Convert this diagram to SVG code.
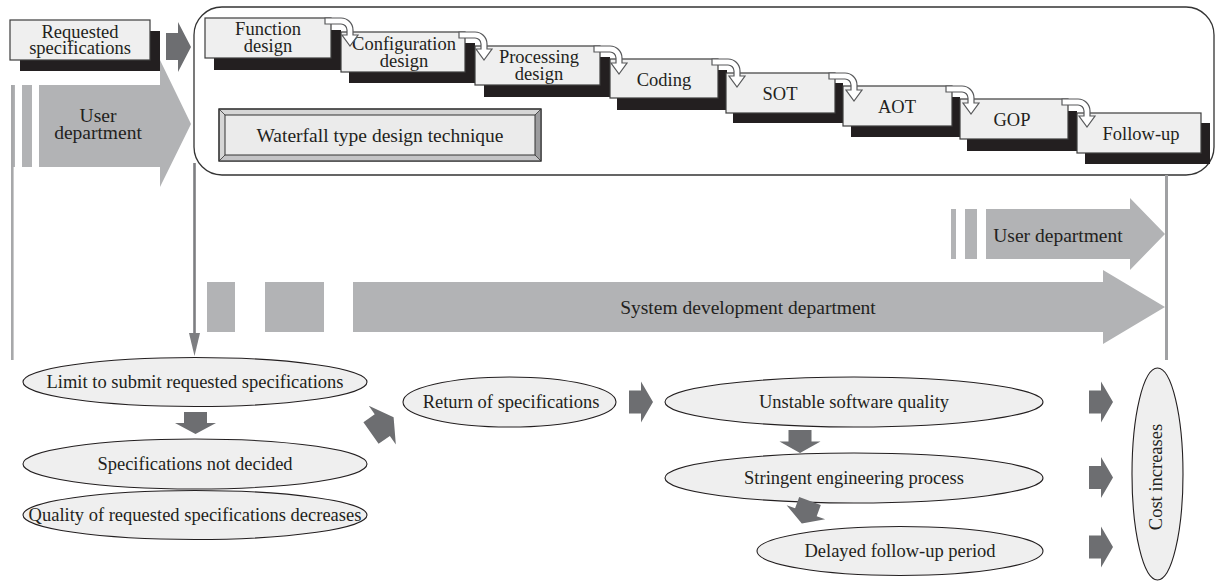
<svg xmlns="http://www.w3.org/2000/svg" xmlns:xlink="http://www.w3.org/1999/xlink" width="1217" height="583" viewBox="0 0 1217 583">
  <style>
    .t { font-family: "Liberation Serif", "Times New Roman", serif; fill: #231f20; text-anchor: middle; }
    .s18 { font-size: 18.5px; }
    .s19 { font-size: 19.5px; }
    .box { fill: #efefef; stroke: #3c3c3c; stroke-width: 1.2; }
    .shd { fill: #231f20; }
    .ell { fill: #efefef; stroke: #231f20; stroke-width: 1.1; }
    .lg { fill: #b2b3b5; }
    .dg { fill: #6d6e71; }
    .bend { fill: #ffffff; stroke: #58595b; stroke-width: 1.2; }
    .frame { fill: none; stroke: #333333; stroke-width: 1.3; }
  </style>
  <defs>
    <!-- hollow bent arrow linking one step to the next, origin at the step's top-right corner -->
    <path id="bendArrow" class="bend" d="M -6,0 H 10 A 12 12 0 0 1 22,12 V 17 H 27 L 19,28 L 11,17 H 16 V 12 A 6 6 0 0 0 10,6 H -6 Z"/>
    <!-- small solid block arrow pointing along +x, origin at the tail centre -->
    <path id="blockArrow" class="dg" d="M0,-11.5 H12 V-20.5 L24,0 L12,20.5 V11.5 H0 Z"/>
  </defs>

  <!-- waterfall frame -->
  <rect class="frame" x="194" y="7" width="1020" height="168" rx="28" ry="28"/>

  <!-- requested specifications -->
  <g id="requested-specifications">
    <rect class="shd" x="20" y="31" width="140" height="40"/>
    <rect class="box" x="10" y="20" width="140" height="40"/>
    <text class="t s18"><tspan x="80" y="38">Requested</tspan><tspan x="80" y="54">specifications</tspan></text>
  </g>

  <!-- user department band on the left -->
  <g id="user-department-left">
    <rect class="lg" x="11" y="85" width="4" height="82"/>
    <rect x="11" y="85" width="2.6" height="275" fill="#a7a8aa"/>
    <rect class="lg" x="22" y="85" width="10" height="82"/>
    <polygon class="lg" points="39,85 160,85 160,60 191,124 160,187 160,167 39,167"/>
    <text class="t s19"><tspan x="98" y="122">User</tspan><tspan x="98" y="139">department</tspan></text>
  </g>
  <polygon id="requested-arrow" class="dg" points="166,33 178,33 178,22 191,47 178,72 178,60 166,60"/>

  <!-- design steps -->
  <g id="step-function-design">
    <rect class="shd" x="214" y="30" width="127" height="40"/>
    <rect class="box" x="205" y="18" width="126" height="40"/>
    <text class="t s18"><tspan x="268" y="35">Function</tspan><tspan x="268" y="52">design</tspan></text>
  </g>
  <g id="step-configuration-design">
    <rect class="shd" x="349" y="43" width="126" height="40"/>
    <rect class="box" x="341" y="32" width="124" height="40"/>
    <text class="t s18"><tspan x="404" y="50">Configuration</tspan><tspan x="404" y="67">design</tspan></text>
  </g>
  <g id="step-processing-design">
    <rect class="shd" x="484" y="57" width="126" height="40"/>
    <rect class="box" x="475" y="46" width="125" height="39"/>
    <text class="t s18"><tspan x="539" y="63">Processing</tspan><tspan x="539" y="80">design</tspan></text>
  </g>
  <g id="step-coding">
    <rect class="shd" x="617" y="70" width="110" height="40"/>
    <rect class="box" x="610" y="59" width="108" height="39"/>
    <text class="t s18" x="664" y="86">Coding</text>
  </g>
  <g id="step-sot">
    <rect class="shd" x="733" y="83" width="110" height="40"/>
    <rect class="box" x="726" y="73" width="109" height="40"/>
    <text class="t s18" x="780" y="100">SOT</text>
  </g>
  <g id="step-aot">
    <rect class="shd" x="851" y="97" width="109" height="40"/>
    <rect class="box" x="843" y="86" width="109" height="40"/>
    <text class="t s18" x="897" y="113">AOT</text>
  </g>
  <g id="step-gop">
    <rect class="shd" x="967" y="111" width="110" height="40"/>
    <rect class="box" x="960" y="99" width="108" height="40"/>
    <text class="t s18" x="1012" y="126">GOP</text>
  </g>
  <g id="step-follow-up">
    <rect class="shd" x="1085" y="123" width="125" height="41"/>
    <rect class="box" x="1077" y="113" width="124" height="40"/>
    <text class="t s18" x="1141" y="140">Follow-up</text>
  </g>

  <!-- technique label with bevelled frame -->
  <g id="waterfall-label">
    <rect x="219" y="109" width="322" height="52" fill="#d6d6d6" stroke="#333" stroke-width="1"/>
    <polygon points="535,115 541,109 541,161 535,155" fill="#9c9c9e"/>
    <polygon points="225,155 535,155 541,161 219,161" fill="#c4c4c6"/>
    <line x1="219" y1="109" x2="225" y2="115" stroke="#333" stroke-width="0.8"/>
    <line x1="541" y1="109" x2="535" y2="115" stroke="#333" stroke-width="0.8"/>
    <line x1="219" y1="161" x2="225" y2="155" stroke="#333" stroke-width="0.8"/>
    <line x1="541" y1="161" x2="535" y2="155" stroke="#333" stroke-width="0.8"/>
    <rect x="225" y="115" width="310" height="40" fill="#ebebeb" stroke="#333" stroke-width="1"/>
    <rect x="219" y="109" width="322" height="52" fill="none" stroke="#333" stroke-width="1.2"/>
    <text class="t s19" x="380" y="142">Waterfall type design technique</text>
  </g>

  <!-- department bands -->
  <g id="user-department-right">
    <rect class="lg" x="951" y="209" width="5" height="50"/>
    <rect class="lg" x="965" y="209" width="12" height="50"/>
    <polygon class="lg" points="986,209 1130,209 1130,198 1165,234 1130,270 1130,259 986,259"/>
    <text class="t s19" x="1058" y="242">User department</text>
  </g>
  <g id="system-development-department">
    <rect class="lg" x="207" y="282" width="28" height="50"/>
    <rect class="lg" x="265" y="282" width="59" height="50"/>
    <polygon class="lg" points="353,282 1103,282 1103,270 1165,307 1103,344 1103,332 353,332"/>
    <text class="t s19" x="748" y="314">System development department</text>
  </g>

  <!-- effects -->
  <g id="limit-to-submit">
    <ellipse class="ell" cx="195" cy="382" rx="172" ry="24.5"/>
    <text class="t s18" x="195" y="388">Limit to submit requested specifications</text>
  </g>
  <g id="specifications-not-decided">
    <ellipse class="ell" cx="195" cy="464" rx="172" ry="25"/>
    <text class="t s18" x="195" y="470">Specifications not decided</text>
  </g>
  <g id="quality-decreases">
    <ellipse class="ell" cx="195" cy="515" rx="172" ry="24.5"/>
    <text class="t s18" x="195" y="521">Quality of requested specifications decreases</text>
  </g>
  <g id="return-of-specifications">
    <ellipse class="ell" cx="509.5" cy="402" rx="106.5" ry="25"/>
    <text class="t s18" x="511" y="408">Return of specifications</text>
  </g>
  <g id="unstable-software-quality">
    <ellipse class="ell" cx="854" cy="402" rx="189" ry="25"/>
    <text class="t s18" x="854" y="408">Unstable software quality</text>
  </g>
  <g id="stringent-engineering-process">
    <ellipse class="ell" cx="854" cy="478" rx="189" ry="25"/>
    <text class="t s18" x="854" y="484">Stringent engineering process</text>
  </g>
  <g id="delayed-follow-up-period">
    <ellipse class="ell" cx="900" cy="551" rx="143" ry="24.5"/>
    <text class="t s18" x="900" y="557">Delayed follow-up period</text>
  </g>
  <g id="cost-increases">
    <ellipse class="ell" cx="1157.5" cy="474" rx="25.5" ry="106"/>
    <text class="t s18" transform="translate(1162,477) rotate(-90)">Cost increases</text>
  </g>

  <!-- connectors -->
  <g id="connectors">
    <use xlink:href="#bendArrow" transform="translate(331,18)"/>
    <use xlink:href="#bendArrow" transform="translate(465,32)"/>
    <use xlink:href="#bendArrow" transform="translate(600,46)"/>
    <use xlink:href="#bendArrow" transform="translate(718,59)"/>
    <use xlink:href="#bendArrow" transform="translate(835,73)"/>
    <use xlink:href="#bendArrow" transform="translate(952,86)"/>
    <use xlink:href="#bendArrow" transform="translate(1068,99)"/>

    <line x1="194.5" y1="163" x2="194.5" y2="335" stroke="#7d7e81" stroke-width="2.6"/>
    <polygon points="189,333 200,333 194.5,356" fill="#7d7e81"/>
    <rect x="1165" y="175" width="3" height="185" fill="#a0a1a3"/>

    <use xlink:href="#blockArrow" transform="translate(195.5,412) rotate(90) scale(0.92,1)"/>
    <use xlink:href="#blockArrow" transform="translate(371,433) rotate(-35) scale(1.15)"/>
    <use xlink:href="#blockArrow" transform="translate(629,402)"/>
    <use xlink:href="#blockArrow" transform="translate(800,430) rotate(90) scale(0.96,1)"/>
    <use xlink:href="#blockArrow" transform="translate(810,501) rotate(110)"/>
    <use xlink:href="#blockArrow" transform="translate(1089,402)"/>
    <use xlink:href="#blockArrow" transform="translate(1089,477.5)"/>
    <use xlink:href="#blockArrow" transform="translate(1089,547)"/>
  </g>
</svg>
